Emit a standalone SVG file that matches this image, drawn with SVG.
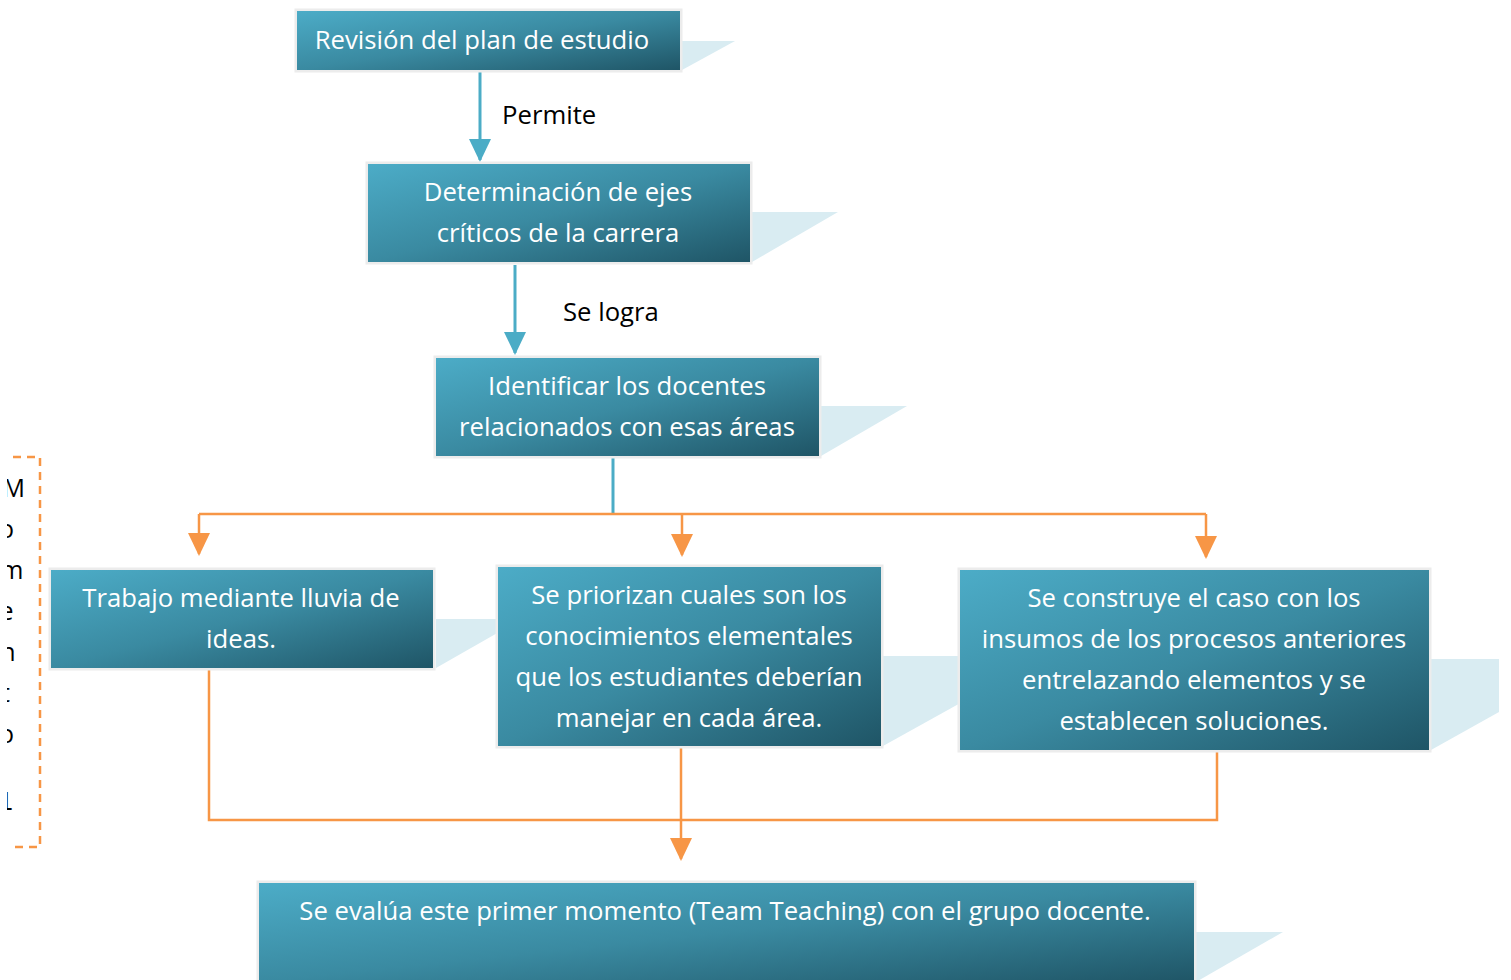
<svg xmlns="http://www.w3.org/2000/svg" width="1511" height="980" viewBox="0 0 1511 980">
  <style>
    .box { fill: url(#g); stroke: #ececec; stroke-width: 5; paint-order: stroke; }
    .sh { fill: #d9ecf2; }
    .t { font-family: "Open Sans", "Noto Sans", sans-serif; font-size: 25.7px; fill: #ffffff; text-anchor: middle; }
    .lbl { font-family: "Open Sans", "Noto Sans", sans-serif; font-size: 25.7px; fill: #000000; }
    .side { font-family: "Open Sans", "Noto Sans", sans-serif; font-size: 25px; fill: #000000; text-anchor: end; }
    .blue { fill: none; stroke: #4bacc6; stroke-width: 3; }
    .orange { fill: none; stroke: #f79646; stroke-width: 2.5; }
  </style>
  <defs>
    <linearGradient id="g" x1="0" y1="0" x2="1" y2="1">
      <stop offset="0" stop-color="#4cacc7"/>
      <stop offset="0.5" stop-color="#3a8aa1"/>
      <stop offset="1" stop-color="#1f5566"/>
    </linearGradient>
    <marker id="ab" markerUnits="userSpaceOnUse" markerWidth="24" markerHeight="24" viewBox="0 0 24 24" refX="21" refY="12" orient="auto">
      <path d="M0,1 L23,12 L0,23 z" fill="#4bacc6"/>
    </marker>
    <marker id="ao" markerUnits="userSpaceOnUse" markerWidth="24" markerHeight="24" viewBox="0 0 24 24" refX="21" refY="12" orient="auto">
      <path d="M0,1 L23,12 L0,23 z" fill="#f79646"/>
    </marker>
    <clipPath id="sideclip">
      <rect x="7" y="440" width="40" height="420"/>
    </clipPath>
  </defs>

  <rect width="1511" height="980" fill="#ffffff"/>

  <g id="connectors">
    <path class="blue" d="M480,71 V160" marker-end="url(#ab)"/>
    <path class="blue" d="M515,265 V353" marker-end="url(#ab)"/>
    <path class="blue" d="M613,458 V514"/>
    <path class="orange" d="M199,514 H1206"/>
    <path class="orange" d="M199,514 V554" marker-end="url(#ao)"/>
    <path class="orange" d="M682,514 V555" marker-end="url(#ao)"/>
    <path class="orange" d="M1206,514 V557" marker-end="url(#ao)"/>
    <path class="orange" d="M209,670 V820 H1217 V751"/>
    <path class="orange" d="M681,748 V859" marker-end="url(#ao)"/>
  </g>

  <g id="labels">
    <text class="lbl" x="502" y="124">Permite</text>
    <text class="lbl" x="563" y="321">Se logra</text>
  </g>

  <g id="n1">
    <polygon class="sh" points="682,41 735,41 682,70"/>
    <rect class="box" x="297" y="11" width="383" height="59"/>
    <text class="t" x="482" y="49">Revisión del plan de estudio</text>
  </g>

  <g id="n2">
    <polygon class="sh" points="752,212 838,212 752,262"/>
    <rect class="box" x="368" y="164" width="382" height="98"/>
    <text class="t" x="558" y="201">Determinación de ejes</text>
    <text class="t" x="558" y="242">críticos de la carrera</text>
  </g>

  <g id="n3">
    <polygon class="sh" points="821,406 907,406 821,456"/>
    <rect class="box" x="436" y="358" width="383" height="98"/>
    <text class="t" x="627" y="395">Identificar los docentes</text>
    <text class="t" x="627" y="436">relacionados con esas áreas</text>
  </g>

  <g id="n4">
    <polygon class="sh" points="436,619 522,619 436,668"/>
    <rect class="box" x="51" y="570" width="382" height="98"/>
    <text class="t" x="241" y="607">Trabajo mediante lluvia de</text>
    <text class="t" x="241" y="648">ideas.</text>
  </g>

  <g id="n5">
    <polygon class="sh" points="883,656 1045,656 883,746"/>
    <rect class="box" x="498" y="567" width="383" height="179"/>
    <text class="t" x="689" y="604">Se priorizan cuales son los</text>
    <text class="t" x="689" y="645">conocimientos elementales</text>
    <text class="t" x="689" y="686">que los estudiantes deberían</text>
    <text class="t" x="689" y="727">manejar en cada área.</text>
  </g>

  <g id="n6">
    <polygon class="sh" points="1431,659 1499,659 1499,712 1431,750"/>
    <rect class="box" x="960" y="570" width="469" height="180"/>
    <text class="t" x="1194" y="607">Se construye el caso con los</text>
    <text class="t" x="1194" y="648">insumos de los procesos anteriores</text>
    <text class="t" x="1194" y="689">entrelazando elementos y se</text>
    <text class="t" x="1194" y="730">establecen soluciones.</text>
  </g>

  <g id="n7">
    <polygon class="sh" points="1196,932 1283,932 1196,982"/>
    <rect class="box" x="259" y="883" width="935" height="99"/>
    <text class="t" x="725" y="920">Se evalúa este primer momento (Team Teaching) con el grupo docente.</text>
  </g>

  <g id="side">
    <path d="M13,457 H40 V847 H13" fill="none" stroke="#f79646" stroke-width="2.5" stroke-dasharray="8,6"/>
    <g clip-path="url(#sideclip)">
      <text class="side" x="25" y="497">M</text>
      <text class="side" x="14" y="538">o</text>
      <text class="side" x="23.5" y="579">m</text>
      <text class="side" x="13.5" y="620">e</text>
      <text class="side" x="15.5" y="661">n</text>
      <text class="side" x="10" y="702">t</text>
      <text class="side" x="14" y="743">o</text>
      <text x="-2" y="810" font-family="DejaVu Sans, sans-serif" font-size="25">1</text>
    </g>
  </g>
</svg>
